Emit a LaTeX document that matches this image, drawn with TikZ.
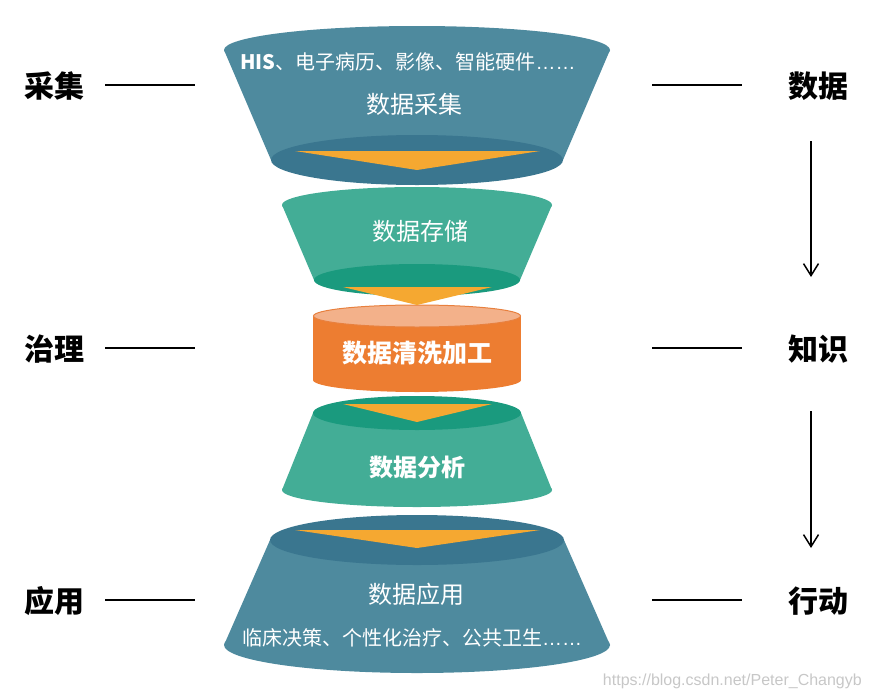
\documentclass[tikz,border=0pt]{standalone}
\usepackage{fontspec}
\setmainfont{Noto Sans CJK SC}
\newfontfamily\latinf{Liberation Sans}
\usetikzlibrary{arrows.meta}
\definecolor{blueA}{HTML}{4E8A9E}
\definecolor{blueB}{HTML}{3A768F}
\definecolor{greenA}{HTML}{43AD96}
\definecolor{greenB}{HTML}{1A9A7E}
\definecolor{triC}{HTML}{F5A831}
\definecolor{orA}{HTML}{ED7D31}
\definecolor{orTop}{HTML}{F3B18A}
\definecolor{orLine}{HTML}{E8803E}
\begin{document}
\begin{tikzpicture}[x=1pt,y=-1pt,
  lbl/.style={text=black,font=\bfseries\fontsize{30}{30}\selectfont},
  wt/.style={text=white,inner sep=0pt},
  tick/.style={line width=1.3pt},
  flow/.style={line width=1.5pt,-{Straight Barb[length=12pt,width=15pt]}},
  tri/.style={fill=triC}]
\useasboundingbox (0,0) rectangle (869,699);

% funnel 1: data collection
\fill[blueA] (224,50) -- (610,50) -- (563,160) -- (271,160) -- cycle;
\fill[blueA] (417,50) ellipse [x radius=193, y radius=24];
\fill[blueB] (417,160) ellipse [x radius=146, y radius=25];
\fill[tri] (295,151) -- (540,151) -- (417,170) -- cycle;

% funnel 2: storage
\fill[greenA] (282,205) -- (552,205) -- (520,280) -- (314,280) -- cycle;
\fill[greenA] (417,205) ellipse [x radius=135, y radius=18];
\fill[greenB] (417,280) ellipse [x radius=103, y radius=16];

% cylinder: cleaning
\fill[orA] (313,316) rectangle (521,380);
\fill[orA] (417,380) ellipse [x radius=104, y radius=12];
\filldraw[fill=orTop,draw=orLine,line width=1pt] (417,316) ellipse [x radius=103.5, y radius=11];
\fill[tri] (343,287) -- (492,287) -- (417,305) -- cycle;

% funnel 4: analysis
\fill[greenA] (417,490) ellipse [x radius=135, y radius=17];
\fill[greenA] (313,413) -- (521,413) -- (552,490) -- (282,490) -- cycle;
\fill[greenB] (417,413) ellipse [x radius=104, y radius=17];
\fill[tri] (343,404) -- (492,404) -- (417,422) -- cycle;

% funnel 5: application
\fill[blueA] (417,645) ellipse [x radius=193, y radius=28];
\fill[blueA] (270,540) -- (564,540) -- (610,645) -- (224,645) -- cycle;
\fill[blueB] (417,540) ellipse [x radius=147, y radius=25];
\fill[tri] (295,530) -- (540,530) -- (417,548) -- cycle;

% texts inside
\node[wt,font=\fontsize{20}{20}\selectfont] (t1a) at (408,62) {\textbf{HIS}、电子病历、影像、智能硬件{\latinf ……}};
\node[wt,font=\fontsize{24}{24}\selectfont] (t1b) at (414,104) {数据采集};
\node[wt,font=\fontsize{24}{24}\selectfont] (t2) at (420,231) {数据存储};
\node[wt,font=\bfseries\fontsize{25}{25}\selectfont] (t3) at (417,353) {数据清洗加工};
\node[wt,font=\bfseries\fontsize{24}{24}\selectfont] (t4) at (417,467) {数据分析};
\node[wt,font=\fontsize{24}{24}\selectfont] (t5a) at (416,594) {数据应用};
\node[wt,font=\fontsize{20}{20}\selectfont] (t5b) at (412,638) {临床决策、个性化治疗、公共卫生{\latinf ……}};

% side labels
\node[lbl] (L1) at (54,86) {采集};
\node[lbl] (L2) at (54,349) {治理};
\node[lbl] (L3) at (54,601) {应用};
\node[lbl] (R1) at (818,86) {数据};
\node[lbl] (R2) at (818,349) {知识};
\node[lbl] (R3) at (818,601) {行动};

\coordinate (la1) at (105,85); \coordinate (lb1) at (195,85);
\coordinate (la2) at (105,348); \coordinate (lb2) at (195,348);
\coordinate (la3) at (105,600); \coordinate (lb3) at (195,600);
\coordinate (ra1) at (652,85); \coordinate (rb1) at (742,85);
\coordinate (ra2) at (652,348); \coordinate (rb2) at (742,348);
\coordinate (ra3) at (652,600); \coordinate (rb3) at (742,600);
\draw[tick] (la1) -- (lb1);
\draw[tick] (la2) -- (lb2);
\draw[tick] (la3) -- (lb3);
\draw[tick] (ra1) -- (rb1);
\draw[tick] (ra2) -- (rb2);
\draw[tick] (ra3) -- (rb3);

\coordinate (a1s) at (811,141); \coordinate (a1e) at (811,277);
\coordinate (a2s) at (811,411); \coordinate (a2e) at (811,548);
\draw[flow] (a1s) -- (a1e);
\draw[flow] (a2s) -- (a2e);

\node[anchor=east,text=black!22,inner sep=0pt,font=\latinf\fontsize{16}{16}\selectfont] (wm) at (862,681) {https://blog.csdn.net/Peter\_Changyb};
\end{tikzpicture}
\end{document}
